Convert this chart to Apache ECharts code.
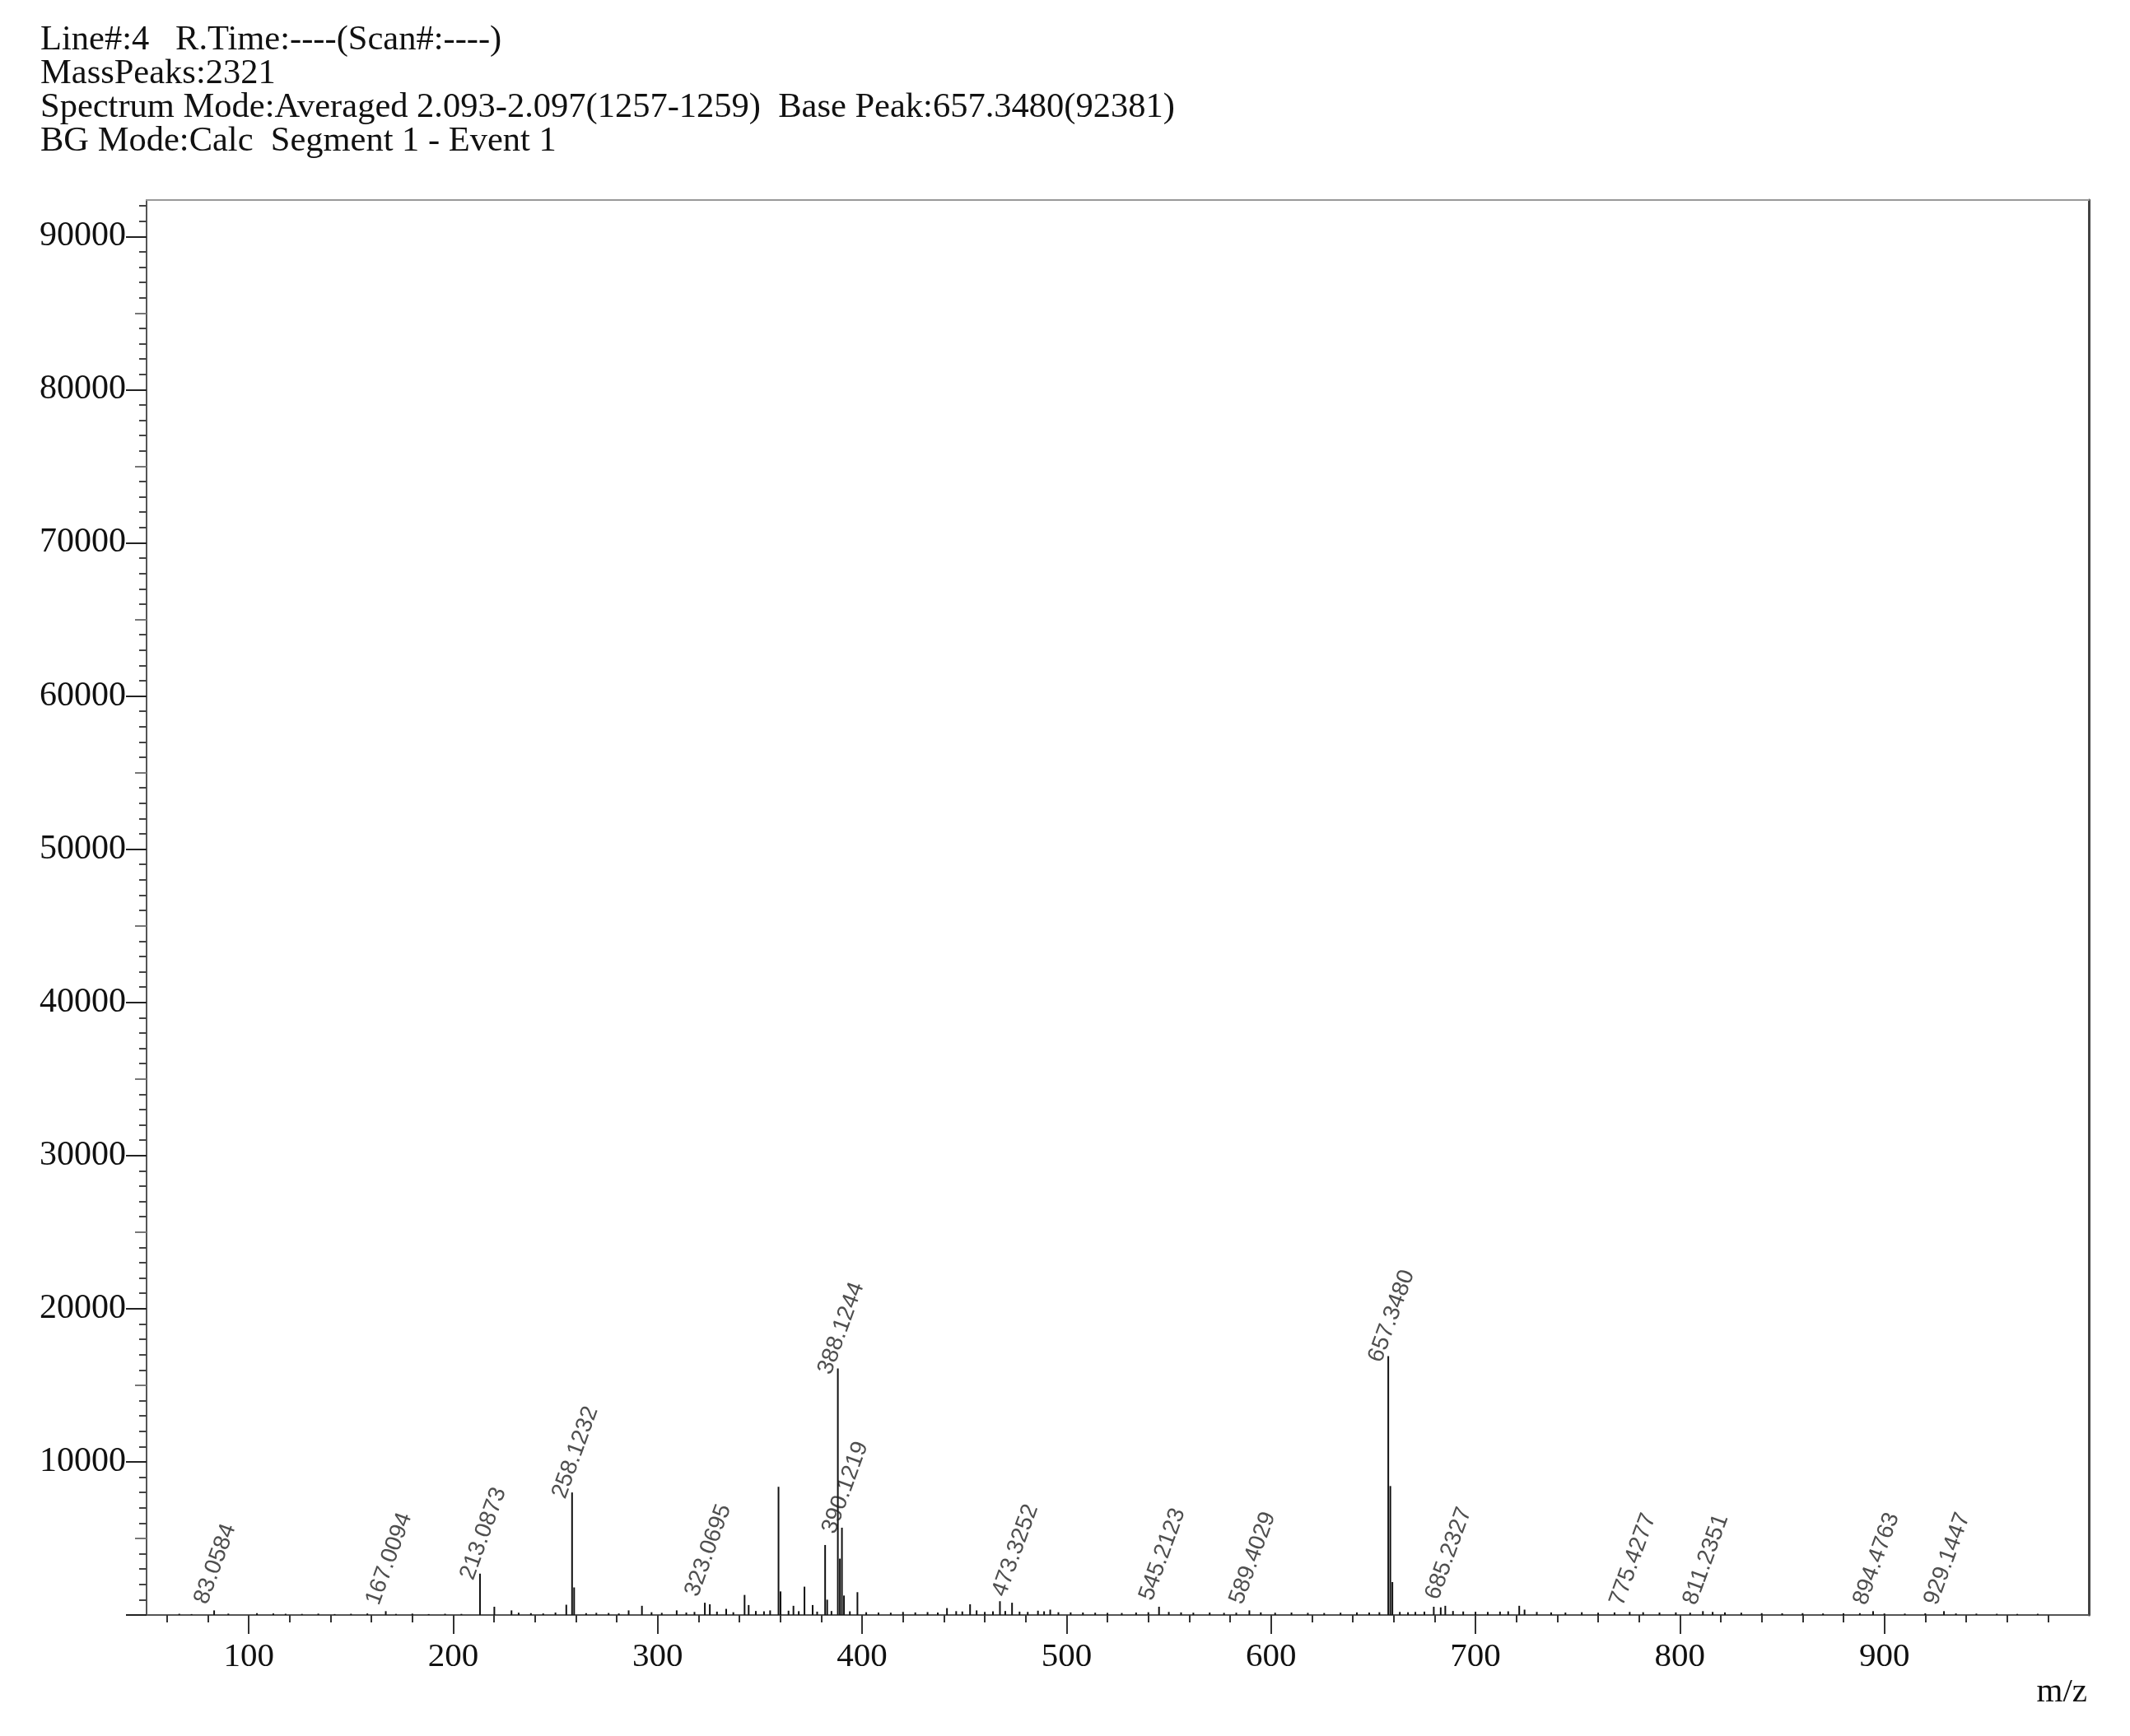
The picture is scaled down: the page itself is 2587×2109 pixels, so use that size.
<!DOCTYPE html>
<html>
<head>
<meta charset="utf-8">
<title>Mass spectrum</title>
<script src="https://cdn.jsdelivr.net/npm/echarts@6/dist/echarts.min.js"></script>
<style>
  html, body { margin: 0; padding: 0; background: #fff; }
  #chart { width: 2587px; height: 2109px; }
</style>
</head>
<body>
<div id="chart"></div>
<script>
// header lines
const headerLines = [
  'Line#:4   R.Time:----(Scan#:----)',
  'MassPeaks:2321',
  'Spectrum Mode:Averaged 2.093-2.097(1257-1259)  Base Peak:657.3480(92381)',
  'BG Mode:Calc  Segment 1 - Event 1'
];

// labelled peaks (m/z, intensity)
const labelMz = [83.0584, 167.0094, 213.0873, 258.1232, 323.0695, 388.1244, 390.1219, 473.3252,
  545.2123, 589.4029, 657.3480, 685.2327, 775.4277, 811.2351, 894.4763, 929.1447];
const labelInt = [300, 250, 2700, 8000, 800, 16100, 5700, 800,
  540, 300, 16900, 600, 200, 250, 250, 250];

// other visible peaks
const otherMz = [220.1, 228.5, 255.3, 259.13, 285.8, 292.3, 309.3, 325.5, 333.5, 342.5, 344.5,
  359.1, 360.1, 366.4, 371.8, 375.8, 381.9, 382.9, 389.13, 391.12, 397.7,
  441.5, 452.8, 467.4, 492.0, 658.35, 659.35, 670.6, 679.6, 683.0, 721.4, 724.0];
const otherInt = [540, 300, 670, 1800, 300, 600, 300, 700, 400, 1310, 650,
  8370, 1540, 600, 1850, 650, 4570, 1000, 3680, 1270, 1490,
  450, 700, 900, 350, 8420, 2150, 200, 540, 500, 600, 350];

// baseline noise
const noiseMz = [66, 72, 90, 104, 112, 118, 126, 134, 142, 150, 158, 172, 180, 188, 196, 204, 232, 238,
  244, 250, 265, 270, 276, 281, 297, 302, 314, 318, 329, 337, 348, 352, 355, 364, 369, 378, 385, 394,
  402, 408, 414, 420, 426, 432, 437, 446, 449, 456, 460, 464, 470, 477, 481, 486, 489, 496, 502, 508,
  514, 520, 527, 534, 540, 550, 556, 562, 570, 577, 583, 595, 602, 610, 618, 626, 634, 642, 648, 653,
  663, 667, 675, 689, 694, 700, 706, 712, 716, 730, 737, 744, 752, 760, 768, 782, 790, 798, 805, 816,
  822, 830, 840, 850, 860, 870, 880, 888, 900, 910, 920, 935, 945, 955, 965, 975];
const noiseInt = [80, 60, 90, 120, 100, 80, 70, 90, 60, 80, 100, 70, 90, 60, 80, 70, 150, 120,
  100, 160, 120, 140, 130, 100, 180, 140, 160, 200, 220, 180, 260, 240, 300, 280, 250, 220, 260, 240,
  180, 160, 150, 200, 170, 190, 160, 250, 230, 300, 200, 240, 260, 220, 200, 280, 240, 180, 170, 160,
  150, 140, 130, 160, 180, 200, 170, 150, 160, 140, 150, 170, 150, 160, 140, 130, 150, 170, 160, 180,
  200, 180, 220, 260, 230, 210, 200, 220, 240, 200, 170, 160, 180, 150, 170, 180, 160, 170, 150, 200,
  170, 150, 120, 110, 120, 100, 110, 120, 100, 90, 110, 100, 90, 80, 70, 80];

const xTicks = [100, 200, 300, 400, 500, 600, 700, 800, 900];
const yTicks = [0, 10000, 20000, 30000, 40000, 50000, 60000, 70000, 80000, 90000];
const yLabels = [10000, 20000, 30000, 40000, 50000, 60000, 70000, 80000, 90000];

const serif = 'Liberation Serif';
const sticks = [];
labelMz.forEach((m, i) => sticks.push([m, labelInt[i]]));
otherMz.forEach((m, i) => sticks.push([m, otherInt[i]]));
noiseMz.forEach((m, i) => sticks.push([m, noiseInt[i]]));

const minorX = [];
for (let v = 60; v <= 980; v += 20) if (v % 100 !== 0) minorX.push(v);
const midY = [];
for (let v = 5000; v < 92381; v += 10000) midY.push(v);
const minorY = [];
for (let v = 1000; v < 92381; v += 1000) if (v % 5000 !== 0) minorY.push(v);

// label offsets are in the rotated label frame (along text, across text)
const ANGLE = 70;
function labelOffset(intensity) {
  const lift = intensity < 1000 ? 20 : 5; // small peaks get their label raised off the baseline
  const r = ANGLE * Math.PI / 180;
  return [-16 + lift * Math.sin(r), -11 - lift * Math.cos(r)];
}

const chart = echarts.init(document.getElementById('chart'));

const hiddenAxis = {
  axisLabel: { show: false },
  splitLine: { show: false },
  axisLine: { show: false }
};

chart.setOption({
  animation: false,
  backgroundColor: '#fff',
  title: {
    text: headerLines.join('\n'),
    left: 44,
    top: 23,
    textStyle: { fontFamily: serif, fontSize: 42.5, fontWeight: 'normal', color: '#111', lineHeight: 41 }
  },
  grid: { left: 178, right: 50, top: 243, bottom: 147 },
  xAxis: [
    {
      type: 'value', min: 50, max: 1000, position: 'bottom',
      axisLine: { onZero: false, lineStyle: { color: '#555', width: 2 } },
      axisTick: { customValues: xTicks, length: 23, lineStyle: { color: '#333', width: 2 } },
      axisLabel: { customValues: xTicks, fontFamily: serif, fontSize: 41, color: '#111', margin: 31 },
      splitLine: { show: false }
    },
    Object.assign({
      type: 'value', min: 50, max: 1000, position: 'bottom',
      axisTick: { customValues: minorX, length: 9, lineStyle: { color: '#333', width: 2 } }
    }, hiddenAxis),
    {
      type: 'value', min: 50, max: 1000, position: 'top',
      axisLine: { onZero: false, lineStyle: { color: '#999', width: 2 } },
      axisTick: { show: false }, axisLabel: { show: false }, splitLine: { show: false }
    }
  ],
  yAxis: [
    {
      type: 'value', min: 0, max: 92381, position: 'left',
      axisLine: { show: true, onZero: false, lineStyle: { color: '#555', width: 2 } },
      axisTick: { show: true, customValues: yTicks, length: 25, lineStyle: { color: '#222', width: 2 } },
      axisLabel: {
        customValues: yLabels, fontFamily: serif, fontSize: 42, color: '#111', margin: 25,
        formatter: v => String(v)
      },
      splitLine: { show: false }
    },
    Object.assign({
      type: 'value', min: 0, max: 92381, position: 'left',
      axisTick: { show: true, customValues: midY, length: 14, lineStyle: { color: '#777', width: 2 } }
    }, hiddenAxis),
    Object.assign({
      type: 'value', min: 0, max: 92381, position: 'left',
      axisTick: { show: true, customValues: minorY, length: 9, lineStyle: { color: '#444', width: 2 } }
    }, hiddenAxis),
    {
      type: 'value', min: 0, max: 92381, position: 'right',
      axisLine: { show: true, onZero: false, lineStyle: { color: '#444', width: 3 } },
      axisTick: { show: false }, axisLabel: { show: false }, splitLine: { show: false }
    }
  ],
  graphic: [{
    type: 'text', right: 52, top: 2036,
    style: { text: 'm/z', fontFamily: serif, fontSize: 41, fill: '#111' }
  }],
  series: [
    {
      type: 'bar',
      data: sticks,
      barWidth: 2,
      itemStyle: { color: '#111' },
      silent: true
    },
    {
      type: 'scatter',
      data: labelMz.map((m, i) => ({
        value: [m, labelInt[i]],
        label: { offset: labelOffset(labelInt[i]) }
      })),
      symbolSize: 0,
      label: {
        show: true,
        position: 'inside',
        rotate: ANGLE,
        align: 'left',
        verticalAlign: 'middle',
        fontFamily: 'Liberation Sans',
        fontSize: 28,
        color: '#222',
        formatter: p => labelMz[p.dataIndex].toFixed(4)
      }
    }
  ]
});
</script>
</body>
</html>
